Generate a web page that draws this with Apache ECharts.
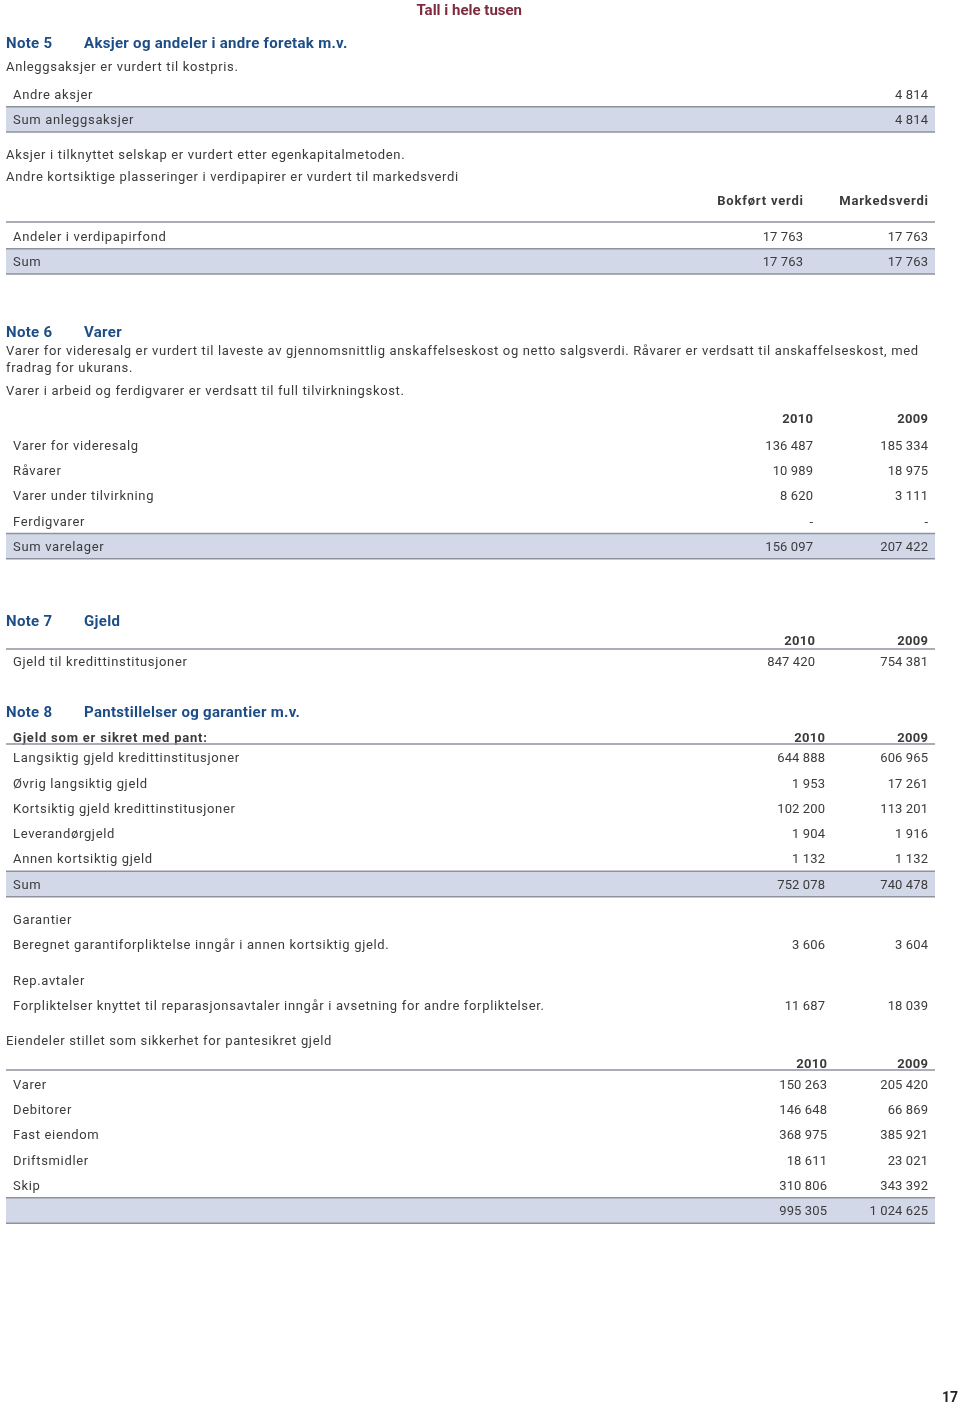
<!DOCTYPE html>
<html>
<head>
<meta charset="utf-8">
<script src="https://cdn.jsdelivr.net/npm/echarts@6/dist/echarts.min.js"></script>
<style>
  html, body { margin: 0; padding: 0; background: #ffffff; }
  #page { width: 960px; height: 1405px; }
</style>
</head>
<body>
<div id="page"></div>
<script>
// ---------------- DATA ----------------
const pageTitle = 'Tall i hele tusen';
const pageNumber = '17';

const note5Id = 'Note 5';
const note5Title = 'Aksjer og andeler i andre foretak m.v.';
const note5Intro = 'Anleggsaksjer er vurdert til kostpris.';
const note5Rows = ['Andre aksjer', 'Sum anleggsaksjer'];
const note5Values = [4814, 4814];
const note5Text = [
  'Aksjer i tilknyttet selskap er vurdert etter egenkapitalmetoden.',
  'Andre kortsiktige plasseringer i verdipapirer er vurdert til markedsverdi'
];
const note5bCols = ['Bokført verdi', 'Markedsverdi'];
const note5bRows = ['Andeler i verdipapirfond', 'Sum'];
const note5bBook = [17763, 17763];
const note5bMarket = [17763, 17763];

const note6Id = 'Note 6';
const note6Title = 'Varer';
const note6Text = [
  'Varer for videresalg er vurdert til laveste av gjennomsnittlig anskaffelseskost og netto salgsverdi. Råvarer er verdsatt til anskaffelseskost, med',
  'fradrag for ukurans.',
  'Varer i arbeid og ferdigvarer er verdsatt til full tilvirkningskost.'
];
const years = ['2010', '2009'];
const note6Rows = ['Varer for videresalg', 'Råvarer', 'Varer under tilvirkning', 'Ferdigvarer', 'Sum varelager'];
const note6V2010 = [136487, 10989, 8620, null, 156097];
const note6V2009 = [185334, 18975, 3111, null, 207422];

const note7Id = 'Note 7';
const note7Title = 'Gjeld';
const note7Rows = ['Gjeld til kredittinstitusjoner'];
const note7V2010 = [847420];
const note7V2009 = [754381];

const note8Id = 'Note 8';
const note8Title = 'Pantstillelser og garantier m.v.';
const note8Sub = 'Gjeld som er sikret med pant:';
const note8Rows = ['Langsiktig gjeld kredittinstitusjoner', 'Øvrig langsiktig gjeld', 'Kortsiktig gjeld kredittinstitusjoner', 'Leverandørgjeld', 'Annen kortsiktig gjeld', 'Sum'];
const note8V2010 = [644888, 1953, 102200, 1904, 1132, 752078];
const note8V2009 = [606965, 17261, 113201, 1916, 1132, 740478];
const guaranteeHeads = ['Garantier', 'Rep.avtaler'];
const guaranteeRows = ['Beregnet garantiforpliktelse inngår i annen kortsiktig gjeld.', 'Forpliktelser knyttet til reparasjonsavtaler inngår i avsetning for andre forpliktelser.'];
const guaranteeV2010 = [3606, 11687];
const guaranteeV2009 = [3604, 18039];
const assetsIntro = 'Eiendeler stillet som sikkerhet for pantesikret gjeld';
const assetRows = ['Varer', 'Debitorer', 'Fast eiendom', 'Driftsmidler', 'Skip', ''];
const assetV2010 = [150263, 146648, 368975, 18611, 310806, 995305];
const assetV2009 = [205420, 66869, 385921, 23021, 343392, 1024625];

// ---------------- STYLE / LAYOUT ----------------
const FONT = 'Roboto, "Noto Sans", sans-serif';
const C_TEXT = '#3b3b3b';
const C_BLUE = '#1d4d86';
const C_RED = '#7e2a3e';
const C_LINE = '#8e929c';
const C_BAND = '#d3d8e9';
const X_L = 6, X_IN = 13, X_R = 935, COL_B = 928;
const ROW = 25.3;
const TEXT_DY = 1.5;

// The original typeface is tracked wider than Roboto: add canvas letter spacing by text style.
(function () {
  const proto = CanvasRenderingContext2D.prototype;
  if (!('letterSpacing' in proto)) return;
  const orig = proto.fillText;
  proto.fillText = function (t, x, y, w) {
    const f = this.font || '';
    const bold = /bold|700/.test(f);
    const numeric = /^[\d\s\-]+$/.test(String(t));
    const fs = String(this.fillStyle).toLowerCase();
    let ls = 0;
    if (fs === C_RED.toLowerCase() || /14px/.test(f)) ls = 0;
    else if (/15px/.test(f)) ls = 0.3;
    else if (numeric) ls = bold ? 0.3 : 0.12;
    else if (bold) ls = 0.8;
    else ls = 0.66;
    const prev = this.letterSpacing;
    this.letterSpacing = ls + 'px';
    let dx = 0;
    if (this.textAlign === 'right' || this.textAlign === 'end') dx = ls;
    const r = orig.call(this, t, x + dx, y, w);
    this.letterSpacing = prev;
    return r;
  };
})();

function fmt(v) {
  if (v === null || v === undefined) return '-';
  return String(v).replace(/\B(?=(\d{3})+(?!\d))/g, ' ');
}

const els = [];
function txt(x, y, s, o) {
  o = o || {};
  const align = o.align || 'left';
  els.push({
    type: 'text', x: x, y: y + TEXT_DY, silent: true,
    style: {
      text: s, fill: o.color || C_TEXT,
      font: (o.bold ? 'bold ' : '') + (o.size || 13) + 'px ' + FONT,
      align: align, verticalAlign: 'middle',
      textAlign: align, textVerticalAlign: 'middle'
    }
  });
}
function hline(y, x1, x2, w) {
  els.push({ type: 'line', silent: true,
    shape: { x1: x1 === undefined ? X_L : x1, y1: y, x2: x2 === undefined ? X_R : x2, y2: y },
    style: { stroke: C_LINE, lineWidth: w || 1.5 } });
}
function band(y0, y1) {
  els.push({ type: 'rect', silent: true, shape: { x: X_L, y: y0, width: X_R - X_L, height: y1 - y0 }, style: { fill: C_BAND } });
}
function noteHead(y, id, title) {
  txt(X_L, y, id, { color: C_BLUE, bold: true, size: 15 });
  txt(84, y, title, { color: C_BLUE, bold: true, size: 15 });
}
function table(yFirst, rows, cols, colX, opts) {
  opts = opts || {};
  rows.forEach(function (label, i) {
    const y = yFirst + i * ROW;
    const isSum = opts.sum && i === rows.length - 1;
    if (isSum) {
      band(y - ROW / 2, y + ROW / 2);
      hline(y - ROW / 2);
      hline(y + ROW / 2);
    }
    if (label) txt(X_IN, y, label);
    cols.forEach(function (arr, c) { txt(colX[c], y, fmt(arr[i]), { align: 'right' }); });
  });
}

// ---------------- BUILD PAGE ----------------
txt(522, 10, pageTitle, { color: C_RED, bold: true, size: 15, align: 'right' });

// Note 5
noteHead(43, note5Id, note5Title);
txt(X_L, 66, note5Intro);
table(94, note5Rows, [note5Values], [COL_B], { sum: true });
txt(X_L, 154, note5Text[0]);
txt(X_L, 176, note5Text[1]);
txt(803, 200, note5bCols[0], { bold: true, align: 'right' });
txt(COL_B, 200, note5bCols[1], { bold: true, align: 'right' });
hline(222);
table(236, note5bRows, [note5bBook, note5bMarket], [803, COL_B], { sum: true });

// Note 6
noteHead(332, note6Id, note6Title);
txt(X_L, 350, note6Text[0]);
txt(X_L, 367, note6Text[1]);
txt(X_L, 390, note6Text[2]);
txt(813, 418, years[0], { bold: true, align: 'right' });
txt(COL_B, 418, years[1], { bold: true, align: 'right' });
table(445, note6Rows, [note6V2010, note6V2009], [813, COL_B], { sum: true });

// Note 7
noteHead(621, note7Id, note7Title);
txt(815, 640, years[0], { bold: true, align: 'right' });
txt(COL_B, 640, years[1], { bold: true, align: 'right' });
hline(649);
table(661, note7Rows, [note7V2010, note7V2009], [815, COL_B]);

// Note 8
noteHead(712, note8Id, note8Title);
txt(X_IN, 737, note8Sub, { bold: true });
txt(825, 737, years[0], { bold: true, align: 'right' });
txt(COL_B, 737, years[1], { bold: true, align: 'right' });
hline(744);
table(757.5, note8Rows, [note8V2010, note8V2009], [825, COL_B], { sum: true });

guaranteeHeads.forEach(function (h, i) {
  const y0 = 919 + i * 61;
  txt(X_IN, y0, h);
  txt(X_IN, y0 + 25.5, guaranteeRows[i]);
  txt(825, y0 + 25.5, fmt(guaranteeV2010[i]), { align: 'right' });
  txt(COL_B, y0 + 25.5, fmt(guaranteeV2009[i]), { align: 'right' });
});

txt(X_L, 1040, assetsIntro);
txt(827, 1063, years[0], { bold: true, align: 'right' });
txt(COL_B, 1063, years[1], { bold: true, align: 'right' });
hline(1070);
table(1084, assetRows, [assetV2010, assetV2009], [827, COL_B], { sum: true });

txt(958, 1397, pageNumber, { bold: true, size: 14, align: 'right', color: '#222' });

const chart = echarts.init(document.getElementById('page'), null, { renderer: 'canvas', width: 960, height: 1405 });
chart.setOption({
  backgroundColor: '#ffffff',
  animation: false,
  graphic: { elements: els }
});
</script>
</body>
</html>
